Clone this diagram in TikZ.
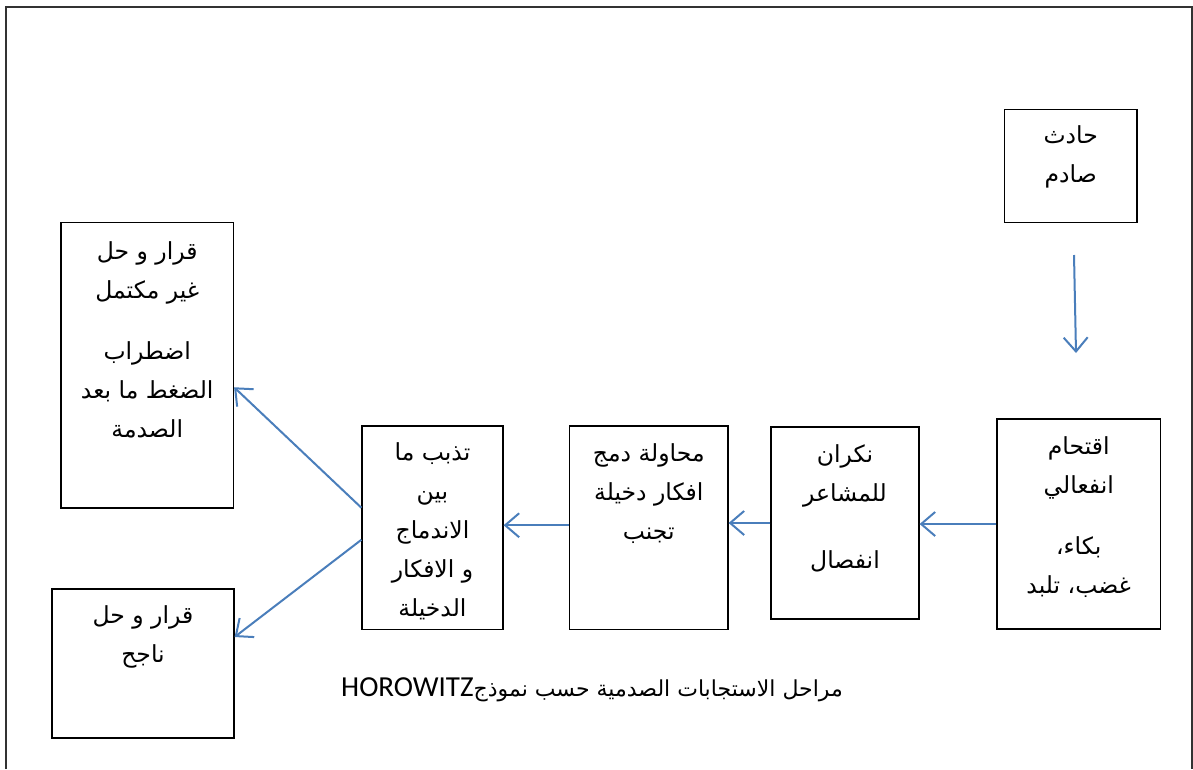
\documentclass[tikz,border=0pt]{standalone}
\usepackage{fontspec}
\setmainfont{Liberation Sans}
\newfontfamily\arabicfont[Script=Arabic]{DejaVu Sans}
\newfontfamily\capfont{Carlito}
\TeXXeTstate=1
\usetikzlibrary{arrows.meta,calc}
\newcommand{\rl}[1]{\beginR #1\endR}
\definecolor{arrowblue}{RGB}{74,126,187}
\definecolor{framegray}{RGB}{50,50,50}
\tikzset{
  box/.style={draw=black, line width=1.2pt, rectangle, inner sep=0pt},
  boxtext/.style={font=\arabicfont\fontsize{23.5}{39}\selectfont, align=center, anchor=north, inner sep=0pt},
  flow/.style={draw=arrowblue, line width=2pt, -{Straight Barb[length=14pt,width=24pt]}},
}
\begin{document}
\begin{tikzpicture}[x=1pt,y=-1pt]
\useasboundingbox (0,0) rectangle (1193,769);
\draw[framegray, line width=2pt] (5.5,769) -- (5.5,6.5) -- (1191.5,6.5) -- (1191.5,769);

% boxes
\node[box, minimum width=132.5pt, minimum height=113pt] (hd) at (1070.75,166) {};
\node[box, minimum width=163.5pt, minimum height=210pt] (iq) at (1078.75,524) {};
\node[box, minimum width=148pt, minimum height=192pt] (nk) at (845,523) {};
\node[box, minimum width=158.5pt, minimum height=203.5pt] (mh) at (648.75,527.75) {};
\node[box, minimum width=141pt, minimum height=203.5pt] (tz) at (432.5,527.75) {};
\node[box, minimum width=172.5pt, minimum height=285.5pt] (r1) at (147.25,365.25) {};
\node[box, minimum width=182pt, minimum height=149pt] (r2) at (143,663.5) {};

% texts
\node[boxtext] (hdt) at ($(hd.north)+(0,16.5)$) {\rl{حادث}\\ \rl{صادم}};
\node[boxtext] (iqt) at ($(iq.north)+(0,18)$) {\rl{اقتحام}\\ \rl{انفعالي}\\[22pt] \rl{بكاء،}\\ \rl{غضب، تلبد}};
\node[boxtext] (nkt) at ($(nk.north)+(0,18.5)$) {\rl{نكران}\\ \rl{للمشاعر}\\[28pt] \rl{انفصال}};
\node[boxtext] (mht) at ($(mh.north)+(0,18)$) {\rl{محاولة دمج}\\ \rl{افكار دخيلة}\\ \rl{تجنب}};
\node[boxtext] (tzt) at ($(tz.north)+(0,17)$) {\rl{تذبب ما}\\ \rl{بين}\\ \rl{الاندماج}\\ \rl{و الافكار}\\ \rl{الدخيلة}};
\node[boxtext] (r1t) at ($(r1.north)+(0,19.5)$) {\rl{قرار و حل}\\ \rl{غير مكتمل}\\[22pt] \rl{اضطراب}\\ \rl{الضغط ما بعد}\\ \rl{الصدمة}};
\node[boxtext] (r2t) at ($(r2.north)+(0,17)$) {\rl{قرار و حل}\\ \rl{ناجح}};

% caption
\node[inner sep=0pt] (cap) at (592,690) {\arabicfont\fontsize{22}{26}\selectfont\beginR مراحل الاستجابات الصدمية حسب نموذج{\capfont\fontsize{29}{32}\selectfont\beginL HOROWITZ\endL}\endR};

% connectors
\coordinate (a1s) at (1074,255);
\coordinate (a1e) at (1076,353);
\draw[flow] (a1s) -- (a1e);
\draw[flow] (iq.west) -- (iq.west -| nk.east);
\draw[flow] (nk.west) -- (nk.west -| mh.east);
\draw[flow] ($(mh.west)+(0,-2.5)$) -- ($(mh.west -| tz.east)+(0,-2.5)$);
\draw[flow] ($(tz.west)+(0,-20)$) -- ($(r1.east)+(0,22)$);
\draw[flow] ($(tz.west)+(0,12)$) -- ($(r2.east)+(0,-26.5)$);
\end{tikzpicture}
\end{document}
